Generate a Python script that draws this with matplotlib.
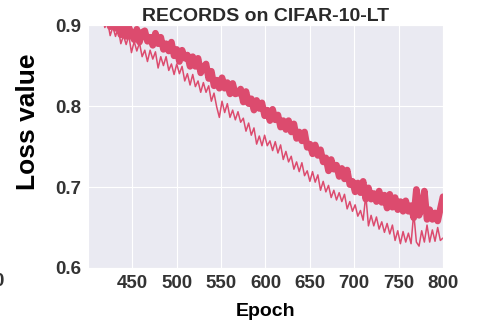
import matplotlib
matplotlib.use("Agg")
import matplotlib.pyplot as plt
import seaborn as sns

epochs = list(range(404, 801, 3))

thick_loss = [
    0.921, 0.909, 0.921, 0.909, 0.903, 0.916, 0.909, 0.898, 0.912, 0.896,
    0.903, 0.888, 0.897, 0.886, 0.898, 0.888, 0.882, 0.895, 0.879, 0.891,
    0.893, 0.880, 0.885, 0.875, 0.890, 0.877, 0.885, 0.870, 0.877, 0.868,
    0.879, 0.862, 0.870, 0.855, 0.869, 0.859, 0.863, 0.849, 0.861, 0.849,
    0.859, 0.841, 0.848, 0.852, 0.834, 0.843, 0.825, 0.832, 0.822, 0.835,
    0.822, 0.829, 0.815, 0.828, 0.815, 0.816, 0.821, 0.805, 0.818, 0.803,
    0.809, 0.795, 0.807, 0.797, 0.804, 0.788, 0.795, 0.782, 0.796, 0.783,
    0.789, 0.774, 0.782, 0.771, 0.782, 0.768, 0.778, 0.760, 0.768, 0.757,
    0.768, 0.749, 0.753, 0.741, 0.752, 0.739, 0.746, 0.731, 0.736, 0.720,
    0.734, 0.722, 0.727, 0.713, 0.723, 0.710, 0.721, 0.703, 0.707, 0.694,
    0.705, 0.693, 0.707, 0.685, 0.699, 0.685, 0.692, 0.682, 0.695, 0.681,
    0.690, 0.674, 0.691, 0.675, 0.687, 0.672, 0.682, 0.670, 0.683, 0.670,
    0.677, 0.662, 0.697, 0.665, 0.674, 0.695, 0.660, 0.672, 0.660, 0.668,
    0.658, 0.673, 0.688,
]

thin_loss = [
    0.923, 0.909, 0.915, 0.900, 0.911, 0.897, 0.905, 0.887, 0.898, 0.886,
    0.897, 0.877, 0.887, 0.876, 0.887, 0.866, 0.880, 0.868, 0.878, 0.861,
    0.869, 0.855, 0.869, 0.858, 0.867, 0.847, 0.861, 0.850, 0.861, 0.844,
    0.852, 0.839, 0.852, 0.840, 0.849, 0.831, 0.840, 0.826, 0.839, 0.824,
    0.831, 0.817, 0.829, 0.817, 0.825, 0.806, 0.816, 0.799, 0.786, 0.806,
    0.792, 0.803, 0.786, 0.795, 0.783, 0.793, 0.780, 0.785, 0.769, 0.779,
    0.764, 0.773, 0.753, 0.763, 0.751, 0.764, 0.751, 0.757, 0.745, 0.756,
    0.742, 0.752, 0.734, 0.744, 0.731, 0.738, 0.722, 0.731, 0.719, 0.730,
    0.714, 0.720, 0.707, 0.719, 0.706, 0.715, 0.696, 0.707, 0.694, 0.702,
    0.687, 0.696, 0.684, 0.693, 0.682, 0.691, 0.673, 0.682, 0.670, 0.678,
    0.664, 0.671, 0.659, 0.690, 0.652, 0.665, 0.652, 0.663, 0.648, 0.657,
    0.644, 0.655, 0.642, 0.653, 0.634, 0.646, 0.630, 0.645, 0.632, 0.643,
    0.630, 0.668, 0.632, 0.627, 0.646, 0.632, 0.653, 0.632, 0.647, 0.633,
    0.650, 0.634, 0.637,
]

x_ticks = [450, 500, 550, 600, 650, 700, 750, 800]
y_ticks = [0.6, 0.7, 0.8, 0.9]

sns.set_style("darkgrid")
plt.rcParams['font.family'] = ['Liberation Sans', 'DejaVu Sans']

color = '#dc4b6e'
fig = plt.figure(figsize=(4.84, 3.26), dpi=100)
ax = fig.add_axes([0.1818, 0.178, 0.7335, 0.745])

ax.plot(epochs, thick_loss, color=color, lw=4.8, solid_joinstyle='round')
ax.plot(epochs, thin_loss, color=color, lw=1.1)

ax.set_xlim(400, 800)
ax.set_ylim(0.6, 0.9)
ax.set_xticks(x_ticks)
ax.set_yticks(y_ticks)
ax.set_xticklabels([str(t) for t in x_ticks], fontsize=13.5, fontweight='bold', color='#333333')
ax.set_yticklabels([f"{t:.1f}" for t in y_ticks], fontsize=13.5, fontweight='bold', color='#333333')
ax.tick_params(axis='both', length=0, pad=5)

ax.set_title("RECORDS on CIFAR-10-LT", fontsize=14, fontweight='bold', color='#2a2a2a', pad=3)
ax.set_xlabel("Epoch", fontsize=14, fontweight='bold', color='black', labelpad=8)
ax.set_ylabel("Loss value", fontsize=19, fontweight='bold', color='black')
ax.yaxis.set_label_coords(-0.135, 0.6)

fig.text(0.007, 0.138, "0", ha='right', va='center', fontsize=13.5, fontweight='bold', color='#333333')

fig.savefig("out.png", dpi=100)
